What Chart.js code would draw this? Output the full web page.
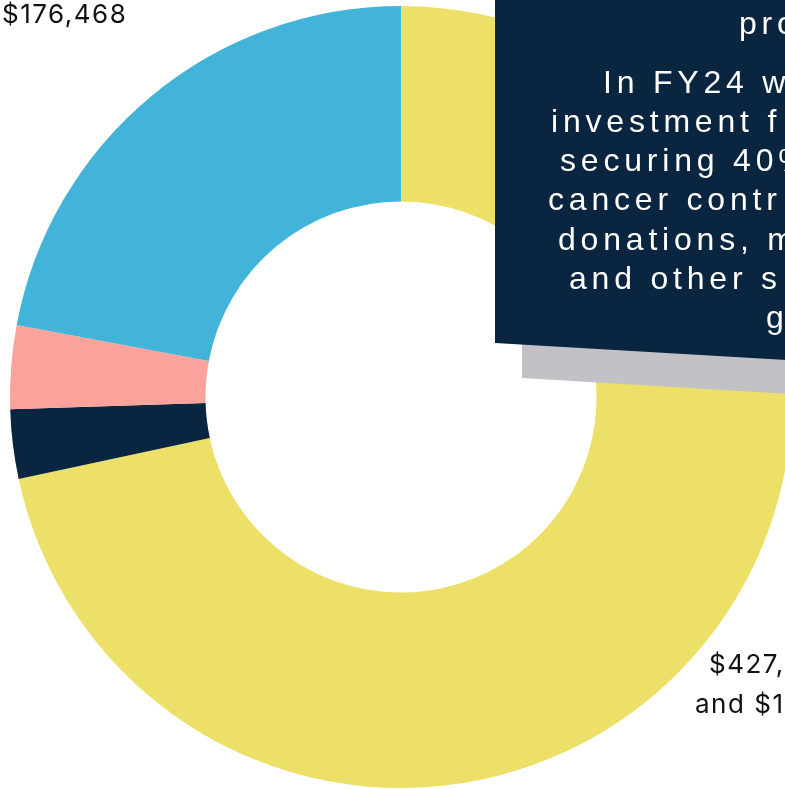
<!DOCTYPE html>
<html>
<head>
<meta charset="utf-8">
<script src="https://cdn.jsdelivr.net/npm/chart.js@4.4.1/dist/chart.umd.min.js"></script>
<style>
  html, body { margin: 0; padding: 0; background: #ffffff; }
  body { width: 785px; height: 789px; overflow: hidden; position: relative; }
  #wrap { position: absolute; left: 0; top: 0; width: 800px; height: 789px; }
  .lbl { position: absolute; font-family: Inter, "Noto Sans", sans-serif; font-size: 26px; font-weight: 400; letter-spacing: 1.5px; color: #111; white-space: nowrap; line-height: 30px; }
  #shadow { position: absolute; left: 522px; top: 300px; width: 300px; height: 100px; background: #C2C1C6;
            clip-path: polygon(0 0, 100% 0, 100% 96px, 0 78px); }
  #box { position: absolute; left: 495px; top: 0; width: 300px; height: 365px; background: #0A2540;
         clip-path: polygon(0 0, 100% 0, 100% 360.6px, 0 343px); }
  .bt { position: absolute; font-family: "Liberation Sans", Arial, sans-serif; font-size: 32px; line-height: 39px;
        letter-spacing: 4.8px; color: #ffffff; white-space: nowrap; }
</style>
</head>
<body>
<div id="wrap"><canvas id="c"></canvas></div>
<div class="lbl" id="l1" style="left:2px; top:-1.5px;">$176,468</div>
<div class="lbl" id="l2" style="left:709px; top:648.5px;">$427,</div>
<div class="lbl" id="l3" style="left:695px; top:688.5px;">and $1</div>
<div id="shadow"></div>
<div id="box"></div>
<div id="txt"></div>
<script>
// Data
const categories = ["Grants", "Other income", "Investment income", "Donations"];
const values = [573200, 22900, 27550, 176468];
const colors = ["#ECE068", "#0A2540", "#FAA29B", "#42B4DA"];
const boxLines = ["pro", "In FY24 w", "investment f", "securing 40%", "cancer contr", "donations, m", "and other s", "g"];

// Box text (positioned to match the visible part of the panel)
const lineLeft = [739, 603, 551, 560, 548, 558, 569, 766];
const lineBase = [35, 94, 133, 172, 211, 251, 290, 329];
const txt = document.getElementById('txt');
boxLines.forEach((t, i) => {
  const d = document.createElement('div');
  d.className = 'bt';
  d.textContent = t;
  d.style.left = lineLeft[i] + 'px';
  d.style.top = (lineBase[i] - 30.6) + 'px';
  txt.appendChild(d);
});

new Chart(document.getElementById('c'), {
  type: 'doughnut',
  data: {
    labels: categories,
    datasets: [{
      data: values,
      backgroundColor: colors,
      borderWidth: 0
    }]
  },
  options: {
    responsive: true,
    maintainAspectRatio: false,
    animation: false,
    cutout: '50%',
    layout: { padding: { left: 10, right: 8, top: 6, bottom: 1 } },
    plugins: { legend: { display: false }, tooltip: { enabled: false } }
  }
});
</script>
</body>
</html>
